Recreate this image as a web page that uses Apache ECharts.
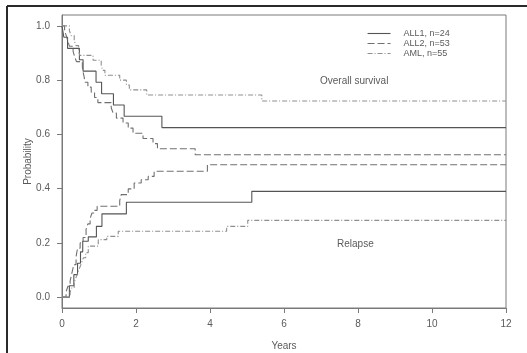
<!DOCTYPE html>
<html>
<head>
<meta charset="utf-8">
<script src="https://cdn.jsdelivr.net/npm/echarts@6/dist/echarts.min.js"></script>
<style>
html,body{margin:0;padding:0;background:#fff;}
#c{width:527px;height:353px;}
</style>
</head>
<body>
<div id="c"></div>
<script>
// Tick labels
var xTicks = [0, 2, 4, 6, 8, 10, 12];
var yTicks = [0, 0.2, 0.4, 0.6, 0.8, 1.0];

// Overall survival
var all1OsT = [0, 0.05, 0.15, 0.47, 0.57, 0.92, 1.07, 1.39, 1.68, 2.70, 12];
var all1OsV = [1, 0.958, 0.917, 0.875, 0.833, 0.792, 0.75, 0.708, 0.667, 0.625, 0.625];

var all2OsT = [0, 0.07, 0.12, 0.16, 0.2, 0.3, 0.34, 0.39, 0.55, 0.57, 0.6, 0.62, 0.7, 0.79, 0.88, 0.97, 1.33, 1.38, 1.47, 1.65, 1.79, 1.92, 2.19, 2.46, 2.58, 3.6, 12];
var all2OsV = [1, 0.981, 0.962, 0.943, 0.925, 0.906, 0.887, 0.868, 0.849, 0.830, 0.811, 0.792, 0.774, 0.755, 0.736, 0.717, 0.698, 0.679, 0.660, 0.642, 0.623, 0.604, 0.585, 0.566, 0.547, 0.525, 0.525];

var amlOsT = [0, 0.2, 0.25, 0.33, 0.38, 0.45, 0.48, 0.84, 1.06, 1.1, 1.16, 1.56, 1.74, 1.82, 2.29, 5.4, 12];
var amlOsV = [1, 0.982, 0.964, 0.945, 0.927, 0.909, 0.891, 0.873, 0.855, 0.836, 0.818, 0.800, 0.782, 0.764, 0.745, 0.723, 0.723];

// Relapse (cumulative incidence)
var all1RelT = [0, 0.2, 0.32, 0.42, 0.5, 0.56, 0.71, 0.93, 1.08, 1.74, 5.13, 12];
var all1RelV = [0, 0.042, 0.083, 0.125, 0.167, 0.206, 0.222, 0.261, 0.307, 0.35, 0.39, 0.39];

var all2RelT = [0, 0.11, 0.16, 0.22, 0.27, 0.32, 0.38, 0.42, 0.49, 0.57, 0.65, 0.70, 0.76, 0.81, 0.87, 0.95, 1.56, 1.6, 1.79, 1.95, 2.14, 2.33, 2.49, 3.93, 12];
var all2RelV = [0, 0.02, 0.04, 0.06, 0.09, 0.12, 0.15, 0.18, 0.2, 0.22, 0.25, 0.27, 0.29, 0.31, 0.32, 0.335, 0.356, 0.378, 0.399, 0.421, 0.433, 0.445, 0.464, 0.488, 0.488];

var amlRelT = [0, 0.22, 0.27, 0.33, 0.38, 0.43, 0.48, 0.53, 0.58, 0.64, 0.71, 0.98, 1.21, 1.52, 4.45, 5.02, 12];
var amlRelV = [0, 0.018, 0.036, 0.055, 0.073, 0.091, 0.109, 0.127, 0.145, 0.164, 0.188, 0.212, 0.224, 0.243, 0.261, 0.283, 0.283];

var names = ['ALL1, n=24', 'ALL2, n=53', 'AML, n=55'];

function zip(t, v) { return t.map(function (x, i) { return [x, v[i]]; }); }

var styles = [
  { color: '#555555', width: 1.1, type: 'solid' },
  { color: '#707070', width: 1.1, type: [7, 3] },
  { color: '#8f8f8f', width: 1.1, type: [5, 2, 1, 2] }
];

function mk(name, idx, t, v) {
  return {
    name: name, type: 'line', step: 'end', symbol: 'none', silent: true,
    data: zip(t, v),
    lineStyle: { color: styles[idx].color, width: styles[idx].width, type: styles[idx].type },
    itemStyle: { color: styles[idx].color },
    animation: false
  };
}

var chart = echarts.init(document.getElementById('c'), null, { renderer: 'canvas' });
var txt = '#5a5a5a';
var ff = 'Liberation Sans, Arial, sans-serif';
chart.setOption({
  backgroundColor: '#fff',
  animation: false,
  grid: { left: 62, right: 21, top: 15, bottom: 45, outerBoundsMode: 'none', containLabel: false,
    show: true, borderColor: '#7a7a7a', borderWidth: 1, backgroundColor: 'transparent' },
  legend: {
    show: true, padding: 0,
    data: names, orient: 'vertical', left: 367, top: 29, itemWidth: 23, itemHeight: 8, itemGap: 1,
    itemStyle: { opacity: 0 },
    lineStyle: { width: 1.1 },
    textStyle: { fontSize: 9, color: txt, fontFamily: ff, padding: [0, 0, 0, 8] },
    selectedMode: false
  },
  xAxis: {
    type: 'value', min: 0, max: 12, interval: 2,
    name: 'Years', nameLocation: 'middle', nameGap: 33, nameMoveOverlap: false,
    nameTextStyle: { fontSize: 10, color: txt, fontFamily: ff },
    axisLine: { onZero: false, lineStyle: { color: '#7a7a7a' } },
    axisTick: { inside: false, length: 5, lineStyle: { color: '#7a7a7a' } },
    axisLabel: { margin: 11, fontSize: 10, color: txt, fontFamily: ff },
    splitLine: { show: false }
  },
  yAxis: {
    type: 'value', min: -0.04, max: 1.04,
    name: 'Probability', nameLocation: 'middle', nameGap: 29, nameMoveOverlap: false,
    nameTextStyle: { fontSize: 10, color: txt, fontFamily: ff },
    axisLine: { lineStyle: { color: '#7a7a7a' } },
    axisTick: { inside: false, length: 5, customValues: yTicks, lineStyle: { color: '#7a7a7a' } },
    axisLabel: { margin: 12, fontSize: 10, color: txt, fontFamily: ff, customValues: yTicks,
      formatter: function (v) { return v.toFixed(1); } },
    splitLine: { show: false }
  },
  graphic: [
    { type: 'line', shape: { x1: 7, y1: 6, x2: 527, y2: 6 }, style: { stroke: '#2a2a2a', lineWidth: 2 } },
    { type: 'line', shape: { x1: 7, y1: 6, x2: 7, y2: 353 }, style: { stroke: '#2a2a2a', lineWidth: 2 } },
    { type: 'text', left: 320, top: 76, style: { text: 'Overall survival', fontSize: 10, fill: txt, fontFamily: ff } },
    { type: 'text', left: 337, top: 239, style: { text: 'Relapse', fontSize: 10, fill: txt, fontFamily: ff } }
  ],
  series: [
    mk(names[0], 0, all1OsT, all1OsV),
    mk(names[1], 1, all2OsT, all2OsV),
    mk(names[2], 2, amlOsT, amlOsV),
    mk(names[0], 0, all1RelT, all1RelV),
    mk(names[1], 1, all2RelT, all2RelV),
    mk(names[2], 2, amlRelT, amlRelV)
  ]
});
</script>
</body>
</html>
